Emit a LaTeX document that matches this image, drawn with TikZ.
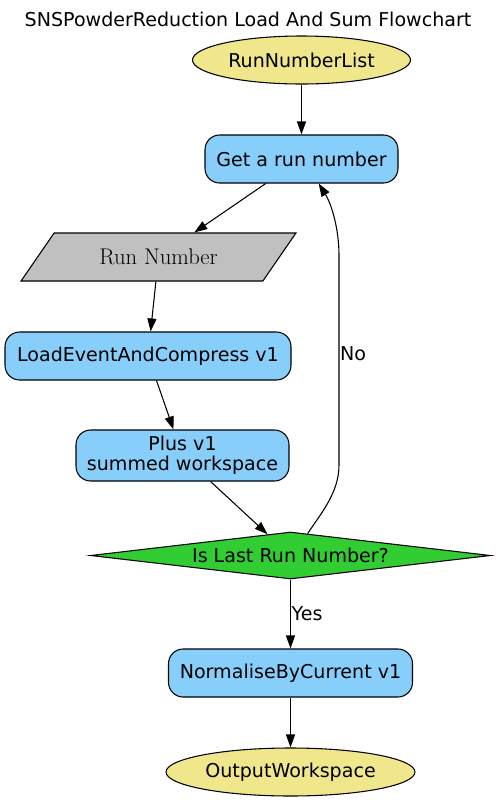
\documentclass[tikz,border=0pt]{standalone}
\usepackage{fontspec}
\setsansfont{DejaVu Sans}
\usetikzlibrary{arrows.meta, positioning, shapes.geometric}

\definecolor{wsyellow}{HTML}{F0E68C}
\definecolor{algoblue}{HTML}{87CEFA}
\definecolor{decgreen}{HTML}{32CD32}
\definecolor{pargray}{HTML}{C0C0C0}

\begin{document}
\begin{tikzpicture}[x=0.75pt, y=-0.75pt, line width=0.8pt,
    >={Triangle[length=9.75pt, width=6.75pt]},
    every node/.style={font=\sffamily\fontsize{14.3}{15}\selectfont},
    wsnode/.style={ellipse, draw, fill=wsyellow, inner sep=0pt, minimum height=36pt},
    algonode/.style={rectangle, draw, fill=algoblue, rounded corners=11pt, inner sep=0pt, minimum height=36pt, align=center},
    parnode/.style={trapezium, trapezium left angle=40.6, trapezium right angle=139.4, trapezium stretches=true, draw, fill=pargray, inner sep=0pt, minimum height=36pt, font=\rmfamily\fontsize{17}{20}\selectfont},
    decnode/.style={diamond, aspect=8.5, draw, fill=decgreen, inner sep=0pt}
]
    \useasboundingbox (0,0) rectangle (496,801);

    % Title
    \node (title) at (248,19) {SNSPowderReduction Load And Sum Flowchart};

    % Nodes of the flowchart
    \node[wsnode, minimum width=163.5pt] (list) at (301.5,60) {RunNumberList};
    \node[algonode, minimum width=144.75pt] (get) at (301.5,159) {Get a run number};
    \node[parnode, minimum width=206.25pt] (runno) at (158.5,257) {Run Number};
    \node[algonode, minimum width=214.5pt] (load) at (148,356) {LoadEventAndCompress v1};
    \node[algonode, minimum width=159.75pt, minimum height=38.25pt] (plus) at (182.5,455.5) {Plus v1\\summed workspace};
    \node[decnode, minimum width=300pt, minimum height=35.25pt] (last) at (290.5,555.5) {Is Last Run Number?};
    \node[algonode, minimum width=183pt] (norm) at (290.5,673) {NormaliseByCurrent v1};
    \node[wsnode, minimum width=186.75pt] (out) at (290.5,772) {OutputWorkspace};

    % Connections
    \draw[->] (list) -- (get);
    \draw[->] (get) -- (runno);
    \draw[->] (runno) -- (load);
    \draw[->] (load) -- (plus);
    \draw[->] (plus) -- (last);
    \draw[->] (last) -- node[right, inner sep=0.5pt] {Yes} (norm);
    \draw[->] (last.52) .. controls (322,512) and (339,492) .. (339,465)
        -- node[pos=0.53, right, inner sep=0.5pt] {No} (339,255)
        .. controls (339,230) and (332,205) .. (get.-55.5);
    \draw[->] (norm) -- (out);
\end{tikzpicture}
\end{document}
